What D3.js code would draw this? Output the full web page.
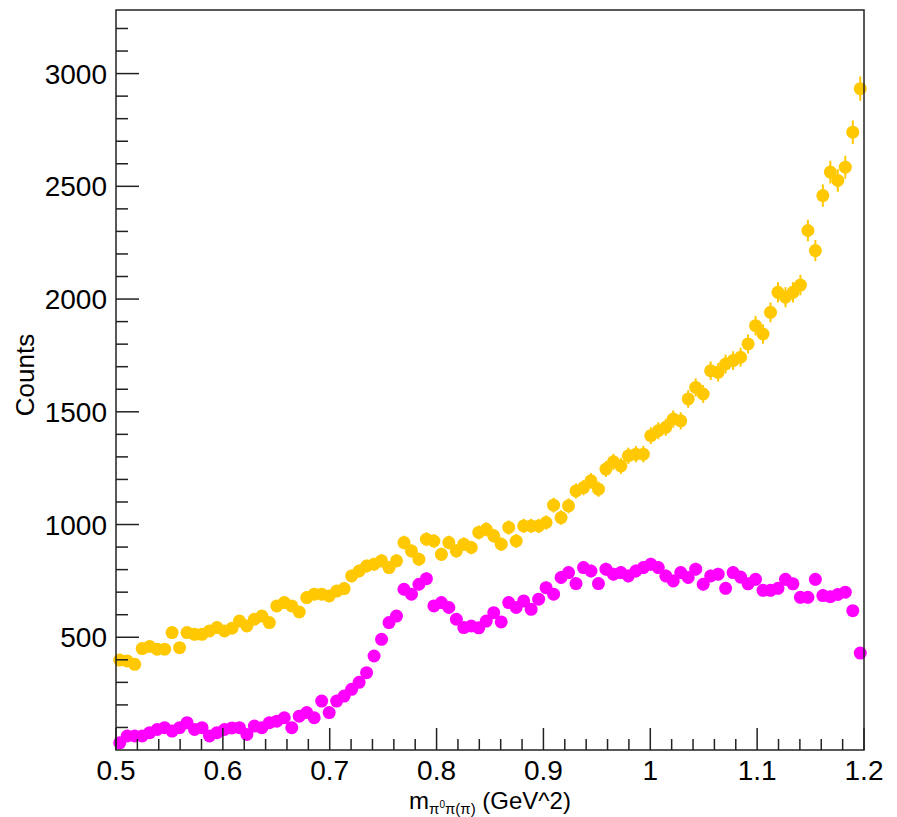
<!DOCTYPE html>
<html>
<head>
<meta charset="utf-8">
<script src="https://cdn.jsdelivr.net/npm/d3@7"></script>
<style>
  html, body { margin: 0; padding: 0; background: #fff; }
  svg { display: block; }
  text { font-family: "Liberation Sans", Arial, Helvetica, sans-serif; fill: #000; }
</style>
</head>
<body>
<svg id="chart" width="897" height="817"></svg>
<script>
// ---- data ----
const binCenters = [
  0.5035,0.5105,0.5175,0.5245,0.5315,0.5385,0.5455,0.5525,0.5595,0.5665,
  0.5735,0.5805,0.5875,0.5945,0.6015,0.6085,0.6155,0.6225,0.6295,0.6365,
  0.6435,0.6505,0.6575,0.6645,0.6715,0.6785,0.6855,0.6925,0.6995,0.7065,
  0.7135,0.7205,0.7275,0.7345,0.7415,0.7485,0.7555,0.7625,0.7695,0.7765,
  0.7835,0.7905,0.7975,0.8045,0.8115,0.8185,0.8255,0.8325,0.8395,0.8465,
  0.8535,0.8605,0.8675,0.8745,0.8815,0.8885,0.8955,0.9025,0.9095,0.9165,
  0.9235,0.9305,0.9375,0.9445,0.9515,0.9585,0.9655,0.9725,0.9795,0.9865,
  0.9935,1.0005,1.0075,1.0145,1.0215,1.0285,1.0355,1.0425,1.0495,1.0565,
  1.0635,1.0705,1.0775,1.0845,1.0915,1.0985,1.1055,1.1125,1.1195,1.1265,
  1.1335,1.1405,1.1475,1.1545,1.1615,1.1685,1.1755,1.1825,1.1895,1.1965
];
const yellowCounts = [
  399,395,380,450,459,447,447,521,454,521,
  513,513,528,543,528,540,572,550,580,594,
  565,639,654,639,612,676,691,691,683,705,
  716,772,794,816,824,839,809,839,920,883,
  846,935,927,868,920,883,913,898,965,979,
  950,913,987,927,994,994,994,1009,1086,1031,
  1083,1149,1164,1194,1157,1246,1278,1260,1305,1312,
  1312,1394,1416,1431,1468,1460,1557,1608,1579,1682,
  1675,1712,1727,1742,1801,1882,1845,1941,2030,2008,
  2030,2062,2304,2215,2459,2563,2526,2585,2740,2933
];
const magentaCounts = [
  32,62,62,62,77,91,99,84,99,121,
  91,99,62,77,91,98,99,69,106,99,
  121,128,143,99,150,166,143,217,166,217,
  239,269,300,343,417,491,565,594,713,691,
  735,760,639,654,632,580,543,550,542,572,
  609,568,654,632,661,624,669,720,691,765,
  787,738,809,794,738,802,780,787,772,794,
  809,824,809,772,750,787,765,802,735,772,
  780,717,787,767,737,757,708,708,717,757,
  737,677,677,757,685,680,690,700,618,430
];
const xTickLabels = ["0.5","0.6","0.7","0.8","0.9","1","1.1","1.2"];
const xTickValues = [0.5,0.6,0.7,0.8,0.9,1.0,1.1,1.2];
const yTickValues = [500,1000,1500,2000,2500,3000];
const xDomain = [0.5, 1.2];
const yDomain = [0, 3282];

// ---- layout ----
const svg = d3.select("#chart");
const L = 116, R = 864, T = 10, B = 750;
const x = d3.scaleLinear().domain(xDomain).range([L, R]);
const y = d3.scaleLinear().domain(yDomain).range([B, T]);

const gPlot = svg.append("g");
const series = [
  { name: "yellow", values: yellowCounts, color: "#FFC800" },
  { name: "magenta", values: magentaCounts, color: "#FF00FF" }
];

series.forEach(s => {
  const pts = binCenters.map((c, i) => ({ x: c, v: s.values[i], e: Math.sqrt(s.values[i]) }));
  const g = gPlot.append("g");
  g.selectAll("line.err").data(pts).enter().append("line")
    .attr("x1", d => x(d.x)).attr("x2", d => x(d.x))
    .attr("y1", d => y(d.v - d.e)).attr("y2", d => y(d.v + d.e))
    .attr("stroke", s.color).attr("stroke-width", 2);
  g.selectAll("circle").data(pts).enter().append("circle")
    .attr("cx", d => x(d.x)).attr("cy", d => y(d.v))
    .attr("r", 6.5).attr("fill", s.color);
});

// ---- frame ----
svg.append("rect").attr("x", L).attr("y", T).attr("width", R - L).attr("height", B - T)
  .attr("fill", "none").attr("stroke", "#222").attr("stroke-width", 1.5);

// ---- x ticks (inward) ----
const gx = svg.append("g");
for (let i = 0; i <= 35; i++) {
  const v = xDomain[0] + i * 0.02;
  const major = i % 5 === 0;
  gx.append("line").attr("x1", x(v)).attr("x2", x(v))
    .attr("y1", B).attr("y2", B - (major ? 22 : 11))
    .attr("stroke", "#222").attr("stroke-width", 1.5);
}
xTickValues.forEach((v, i) => {
  gx.append("text").attr("x", x(v)).attr("y", B + 30)
    .attr("text-anchor", "middle").attr("font-size", 28).text(xTickLabels[i]);
});

// ---- y ticks (inward) ----
const gy = svg.append("g");
for (let v = 100; v <= 3200; v += 100) {
  const major = v % 500 === 0;
  gy.append("line").attr("x1", L).attr("x2", L + (major ? 23 : 12))
    .attr("y1", y(v)).attr("y2", y(v))
    .attr("stroke", "#222").attr("stroke-width", 1.5);
}
yTickValues.forEach(v => {
  gy.append("text").attr("x", 107).attr("y", y(v) + 10)
    .attr("text-anchor", "end").attr("font-size", 28).text(String(v));
});

// ---- axis titles ----
svg.append("text")
  .attr("transform", `translate(34, ${(T + B) / 2 - 5}) rotate(-90)`)
  .attr("text-anchor", "middle").attr("font-size", 26).text("Counts");

const xt = svg.append("text").attr("x", 490).attr("y", 809)
  .attr("text-anchor", "middle").attr("font-size", 24);
xt.append("tspan").text("m");
xt.append("tspan").attr("font-size", 15).attr("dy", 5).text("π");
xt.append("tspan").attr("font-size", 10).attr("dy", -6).text("0");
xt.append("tspan").attr("font-size", 15).attr("dy", 6).text("π(π)");
xt.append("tspan").attr("dy", -5).text(" (GeV^2)");
</script>
</body>
</html>
